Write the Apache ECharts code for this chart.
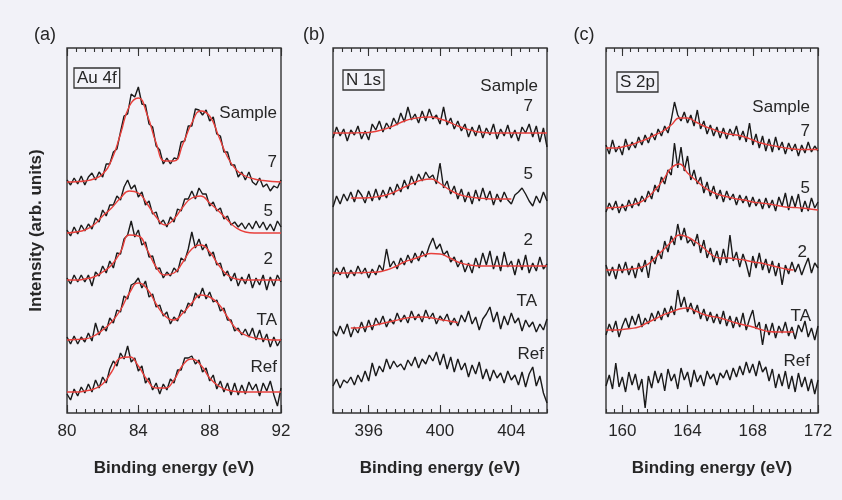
<!DOCTYPE html>
<html>
<head>
<meta charset="utf-8">
<script src="https://cdn.jsdelivr.net/npm/echarts@6/dist/echarts.min.js"></script>
<style>
  html, body { margin: 0; padding: 0; background: #f2f2f8; }
  #chart { width: 842px; height: 500px; }
</style>
</head>
<body>
<div id="chart"></div>
<script>
// XPS core-level spectra: Au 4f, N 1s, S 2p for five samples each.
// Scans are sampled every 0.2 eV, fitted envelopes every 0.5 eV.
// Intensities are given relative to each spectrum's own baseline;
// the offsets stack the spectra vertically (arb. units).

const spectrumNames = ['7', '5', '2', 'TA', 'Ref'];
const SCAN_STEP = 0.2;
const FIT_STEP = 0.5;

// ---- (a) Au 4f, 80–92 eV ----
const auRange = [80, 92];
const auTicks = [80, 84, 88, 92];
const auOffsets = [231, 180, 133, 73, 21];
const auScan7 = [2,-3,4,-2,6, -3,5,9,2,10, 5,18,18,30,33, 50,66,68,88,85, 95,78,77,58,55, 36,32,18,24,18, 24,23,40,41,56, 56,73,72,67,72, 61,65,48,46,30, 30,17,17,5,10, 2,10,0,-3,4, -5,-2,-9,-4,-6, 2];
const auScan5 = [3,-3,6,-1,8, 2,9,4,15,11, 23,17,28,28,37, 33,46,53,44,48, 36,41,28,32,19, 21,9,13,6,16, 11,24,22,34,34, 42,34,45,39,39, 27,31,22,25,14, 17,8,11,6,10, 4,10,4,12,5, 11,3,9,2,12, 6];
const auScan2 = [2,-4,5,-2,5, -2,5,-6,8,4, 14,7,19,12,27, 26,41,45,59,43, 50,35,38,23,24, 11,12,2,8,4, 12,8,22,19,31, 48,32,41,30,36, 24,28,15,17,4, 9,-1,7,-6,3, -4,6,-8,2,-5, 5,-10,3,-6,5, -2];
const auScanTA = [3,-4,4,-4,3, -2,7,-1,17,5, 14,9,22,17,30, 28,44,41,55,57, 62,52,59,43,46, 33,35,24,28,16, 23,19,30,27,37, 34,47,42,52,41, 48,38,40,29,32, 20,20,9,12,5, 11,3,12,0,10, -2,6,-7,3,-6, 1];
const auScanRef = [-2,-8,3,-4,5, -1,8,0,12,4, 15,9,23,31,26, 39,33,46,30,34, 21,26,9,14,2, 9,-2,8,2,13, 9,22,22,34,34, 36,28,32,20,24, 11,17,3,11,0, 9,-3,9,-3,7, -2,10,2,8,-4, 9,1,11,-3,-14, 4];
const auFit7 = [0,0.3,1,3,8,22,48,76,84,67,39,21,21,38,59,71,66,46,25,12,6,3,1.5,0.5,0];
const auFit5 = [0,1,3,8,17,25,35,42,40,29,16,8,14,26,35,37,30,22,13,5,1,0,0,0,0];
const auFit2 = [0,0,1,3,8,15,28,45,44,30,13,5,7,18,31,35,28,15,5,1,0,0,0,0,0];
const auFitTA = [0,0.5,1,4,10,18,30,47,57,51,36,24,20,27,37,45,43,36,23,11,5,2,1,0,0];
const auFitRef = [0,0,1,3,8,20,34,35,26,12,4,4,12,27,33,27,14,6,2,0.5,0,0,0,0,0];
const auFitStarts = [80, 80, 80, 80, 80];

// ---- (b) N 1s, 394–406 eV ----
const nRange = [394, 406];
const nTicks = [396, 400, 404];
const nOffsets = [280, 215, 140, 85, 30];
const nScan7 = [-5,6,-3,4,-8, 3,-2,7,-6,2, -7,9,3,12,1, 10,4,15,8,20, 11,26,13,19,10, 22,12,24,14,18, 9,26,8,15,4, 12,2,9,-4,6, -3,8,-5,5,-2, 9,-6,4,-3,8, -5,3,-8,6,0, 9,-4,7,-9,5, -14];
const nScan5 = [-9,2,-6,4,-3, 6,-4,8,3,-5, 7,-3,9,-2,8, 0,11,3,14,6, 18,9,22,13,24, 17,26,20,23,14, 35,10,17,4,12, -1,9,-4,6,-6, 8,-3,10,-2,7, -7,4,-4,6,-2, -6,3,6,10,4, -3,-8,2,-5,6, -3];
const nScan2 = [-4,5,-2,6,-5, 3,-3,7,-1,5, -5,4,-2,8,2, 24,6,12,4,15, 8,18,10,20,12, 22,16,27,35,24, 29,18,22,11,16, 6,13,1,10,0, 15,5,20,8,22, 4,17,2,21,6, 12,-2,14,3,18, 0,10,2,16,4, 9];
const nScanTA = [-3,-8,2,-6,4, -9,1,-5,6,-4, 8,-2,10,3,12, 1,9,4,15,6, 13,5,17,8,14, 6,18,9,15,4, 12,7,14,3,10, 2,13,6,17,4, 11,-2,9,14,21, 6,16,-1,12,3, 15,5,10,-3,8, 1,6,-4,4,-2, 9];
const nScanRef = [-3,4,-5,3,0, 6,-2,8,1,12, 2,20,7,17,11, 24,14,22,16,19, 13,23,17,26,15, 24,19,28,22,31, 18,29,14,26,11, 24,13,20,6,18, 9,21,4,14,2, 13,5,10,0,12, 3,8,-2,11,-4, 9,16,-3,7,-10, -20];
const nFit7 = [0,0,0,0.2,0.5,2,4.5,8,12,14.5,15.7,16,14,11,7,4,1.5,0.5,0,0,0,0,0,0,0];
const nFit5 = [0,0,0.3,1.3,3,6.5,11,15,18,19,14.5,8.5,4,1.5,0.3,-0.5,-1,-1,-1];
const nFit2 = [0,0,0,0.3,0.6,1,3,6.5,11,14,17,19.5,19,15.5,11,8.5,7.3,7,7,7,7,7,7,7,7];
const nFitTA = [0,0.3,1.5,3.5,5.5,7.5,9.5,10.7,11,10.3,8.5,7,5.5];
const nFitRef = null;
const nFitStarts = [394, 395, 394, 395, null];

// ---- (c) S 2p, 159–172 eV ----
const sRange = [159, 172];
const sTicks = [160, 164, 168, 172];
const sOffsets = [265, 205, 143, 83, 30];
const sScan7 = [3,-6,8,-4,2, -7,9,-2,6,0, 11,3,13,5,15, 8,19,12,22,15, 28,46,33,27,36, 25,33,22,38,19, 27,14,23,12,21, 10,20,9,19,12, 22,8,17,6,25, 3,14,0,12,-3, 9,-4,11,-2,6, -6,5,-3,4,-8, 3,-5,6,-4,2, -3];
const sScan5 = [-4,5,-2,7,-5, 4,-3,8,0,10, 2,12,6,17,9, 23,16,31,24,38, 33,65,40,61,37, 52,28,38,24,31, 15,26,12,22,9, 18,6,17,8,14, 3,13,5,12,1, 11,2,9,-1,10, 0,8,-3,11,2, 15,-2,12,1,14, -4,7,-3,10,0, 6];
const sScan2 = [5,-6,3,-9,6, -3,8,-5,4,-8, 7,-2,10,-8,14, 6,20,11,29,18, 34,25,46,30,42, 27,31,24,36,17, 30,12,22,8,19, 5,21,7,35,9, 18,3,16,6,-7, 14,2,17,0,11, -3,9,-6,7,-15, 5,-4,8,-2,6, -5,4,12,-3,7, 2];
const sScanTA = [-5,6,-2,9,-7, 4,12,2,14,5, 16,3,12,6,17, 9,19,10,22,13, 24,15,40,23,33, 18,27,16,25,11, 21,9,18,7,16, 6,19,4,14,2, 13,3,17,0,11, 20,1,8,-15,6, -5,7,-8,4,-3, 8,-6,3,-9,5, -2,9,-7,2,-10, 4];
const sScanRef = [-3,8,-6,20,-4, 6,-9,11,-2,9, -7,4,-25,7,-5, 12,0,10,-8,14, 2,9,-6,15,3, 11,-4,13,1,8, -3,12,4,9,-2, 10,5,13,3,15, 6,17,8,21,10, 19,7,22,11,16, 2,14,-5,9,-3, 12,-6,7,-9,10, -4,6,-8,4,-11, 3];
const sFit7 = [0,0,1,3,6,9,13,17,23,30,30,26,22,19,16,14,13,11,8,5,3,1.5,0,-1,-1.5,-1.5,-1.5];
const sFit5 = [0,0.5,1,3,5,10,18,28,40,44,35,28,21,16,13,11,9,8,6,5,4,2.5,1,0.5,0,-1,-2];
const sFit2 = [0,0,0,1,2,5,12,20,28,35,33,28,22,15,12,12,11,10,8,7,5,3,1,0];
const sFitTA = [0,0,0.5,1.5,3,7,11,15,18,21,22,19,15.5,13.5,12,9.5,7,5,3,0.5,-1.5,-2,-2,-2];
const sFitRef = null;
const sFitStarts = [159, 159, 159, 159, null];

// ---- panel assembly ----
const FONT = '"Liberation Sans", Arial, Helvetica, sans-serif';
const INK = '#262626';
const Y_MAX = 365;

const panels = [
  { tag: '(a)', core: 'Au 4f', range: auRange, ticks: auTicks, offsets: auOffsets,
    scans: [auScan7, auScan5, auScan2, auScanTA, auScanRef],
    fits: [auFit7, auFit5, auFit2, auFitTA, auFitRef], fitStarts: auFitStarts,
    box: { left: 67, width: 214 } },
  { tag: '(b)', core: 'N 1s', range: nRange, ticks: nTicks, offsets: nOffsets,
    scans: [nScan7, nScan5, nScan2, nScanTA, nScanRef],
    fits: [nFit7, nFit5, nFit2, nFitTA, nFitRef], fitStarts: nFitStarts,
    box: { left: 333, width: 214 } },
  { tag: '(c)', core: 'S 2p', range: sRange, ticks: sTicks, offsets: sOffsets,
    scans: [sScan7, sScan5, sScan2, sScanTA, sScanRef],
    fits: [sFit7, sFit5, sFit2, sFitTA, sFitRef], fitStarts: sFitStarts,
    box: { left: 606, width: 212 } }
];

// label placement per panel: [Sample, 7, 5, 2, TA, Ref] as [right x, centre y]
const labelSpots = [
  [[277,113],[277,162],[273,211],[273,259],[277,320],[277,367]],
  [[538,86],[533,106],[533,174],[533,240],[537,301],[544,354]],
  [[810,107],[810,131],[810,188],[807,252],[811,316],[810,361]]
];
const tagSpots = [[45,35],[314,35],[584,35]];
const coreSpots = [[74,68],[343,70],[617,72]];

const grids = [], xAxes = [], yAxes = [], series = [], graphics = [];

panels.forEach((p, g) => {
  grids.push({ left: p.box.left, width: p.box.width, top: 48, height: 365,
    show: true, borderColor: '#333', borderWidth: 1.4, backgroundColor: 'transparent' });

  const base = { gridIndex: g, type: 'value', min: p.range[0], max: p.range[1],
    splitLine: { show: false }, axisLine: { show: false } };
  const tickStyle = { color: '#333', width: 1.1 };
  // bottom: minor ticks + labels + title
  xAxes.push(Object.assign({}, base, {
    position: 'bottom', interval: 0.5,
    axisTick: { show: true, inside: true, length: 4, lineStyle: tickStyle },
    axisLabel: { show: true, customValues: p.ticks, fontSize: 17, color: INK, fontFamily: FONT, margin: 10 },
    name: 'Binding energy (eV)', nameLocation: 'middle', nameGap: 47,
    nameTextStyle: { fontSize: 17, fontWeight: 'bold', color: INK, fontFamily: FONT }
  }));
  // bottom: major ticks
  xAxes.push(Object.assign({}, base, {
    position: 'bottom',
    axisTick: { show: true, inside: true, length: 8, customValues: p.ticks, lineStyle: tickStyle },
    axisLabel: { show: false }
  }));
  // top: minor ticks
  xAxes.push(Object.assign({}, base, {
    position: 'top', interval: 0.5,
    axisTick: { show: true, inside: true, length: 4, lineStyle: tickStyle },
    axisLabel: { show: false }
  }));
  // top: major ticks
  xAxes.push(Object.assign({}, base, {
    position: 'top',
    axisTick: { show: true, inside: true, length: 8, customValues: p.ticks, lineStyle: tickStyle },
    axisLabel: { show: false }
  }));

  const yAx = { gridIndex: g, type: 'value', min: 0, max: Y_MAX,
    axisLine: { show: false }, axisTick: { show: false }, axisLabel: { show: false },
    splitLine: { show: false } };
  if (g === 0) {
    Object.assign(yAx, { name: 'Intensity (arb. units)', nameLocation: 'middle', nameGap: 22,
      nameTextStyle: { fontSize: 17, fontWeight: 'bold', color: INK, fontFamily: FONT } });
  }
  yAxes.push(yAx);

  p.scans.forEach((scan, k) => {
    const off = p.offsets[k];
    series.push({
      type: 'line', name: spectrumNames[k] + ' scan', xAxisIndex: g * 4, yAxisIndex: g,
      data: scan.map((v, i) => [+(p.range[0] + i * SCAN_STEP).toFixed(2), v + off]),
      symbol: 'none', lineStyle: { color: '#1a1a1a', width: 1.4 }, z: 2, silent: true
    });
    const fit = p.fits[k];
    if (fit) {
      const start = p.fitStarts[k];
      series.push({
        type: 'line', name: spectrumNames[k] + ' fit', xAxisIndex: g * 4, yAxisIndex: g,
        data: fit.map((v, i) => [start + i * FIT_STEP, v + off]),
        smooth: 0.5, symbol: 'none', lineStyle: { color: '#e8403c', width: 1.4 }, z: 3, silent: true
      });
    }
  });

  // panel letter
  graphics.push({ type: 'text', x: tagSpots[g][0], y: tagSpots[g][1],
    style: { text: p.tag, font: '18px ' + FONT, fill: INK, align: 'center', verticalAlign: 'middle' } });
  // boxed core-level label
  graphics.push({ type: 'text', x: coreSpots[g][0], y: coreSpots[g][1],
    style: { text: p.core, font: '17px ' + FONT, fill: INK, align: 'left', verticalAlign: 'top',
      borderColor: '#333', borderWidth: 1.3, padding: [2, 3, 1, 3] } });
  // spectrum labels
  const names = ['Sample'].concat(spectrumNames);
  names.forEach((t, j) => {
    graphics.push({ type: 'text', x: labelSpots[g][j][0], y: labelSpots[g][j][1],
      style: { text: t, font: '17px ' + FONT, fill: INK, align: 'right', verticalAlign: 'middle' } });
  });
});

const chart = echarts.init(document.getElementById('chart'), null, { renderer: 'canvas' });
chart.setOption({
  backgroundColor: '#f2f2f8',
  animation: false,
  grid: grids,
  xAxis: xAxes,
  yAxis: yAxes,
  series: series,
  graphic: graphics
});
</script>
</body>
</html>
